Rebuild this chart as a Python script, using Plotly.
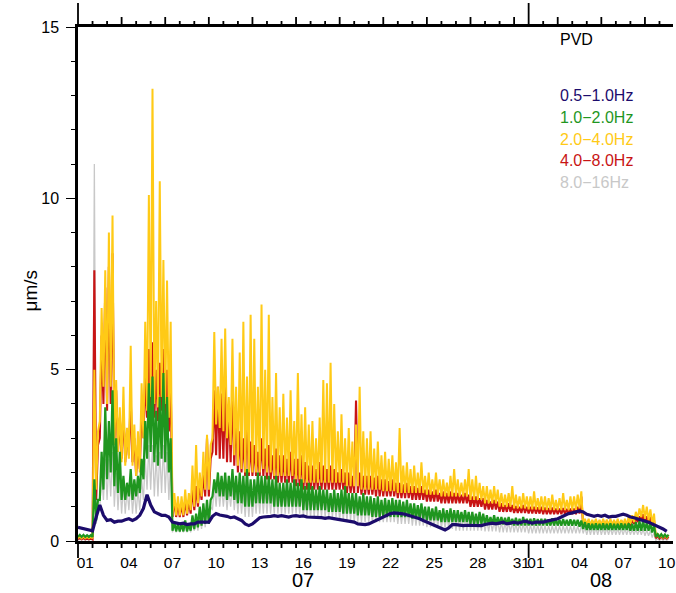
import pandas as pd
import plotly.graph_objects as go

START = "2023-07-01"
X_END = "2023-08-10 22:20"

# Band amplitudes in um/s, one value every 6 hours from Jul 01 00:00 (four per day).
# Noisy bands are stored as valley (lo) and peak (hi) readings.

blue = [
    0.40, 0.38, 0.36, 0.34,
    0.30, 0.70, 1.05, 0.75,
    0.60, 0.62, 0.55, 0.58,
    0.58, 0.62, 0.65, 0.60,
    0.65, 0.75, 0.95, 1.35,
    1.05, 0.85, 0.80, 0.75,
    0.75, 0.70, 0.55, 0.52,
    0.50, 0.52, 0.48, 0.50,
    0.50, 0.55, 0.55, 0.55,
    0.55, 0.72, 0.80, 0.76,
    0.75, 0.72, 0.68, 0.70,
    0.65, 0.60, 0.50, 0.45,
    0.50, 0.60, 0.68, 0.70,
    0.70, 0.72, 0.74, 0.72,
    0.74, 0.72, 0.70, 0.73,
    0.74, 0.72, 0.73, 0.70,
    0.70, 0.68, 0.70, 0.68,
    0.66, 0.68, 0.66, 0.64,
    0.64, 0.62, 0.60, 0.58,
    0.55, 0.50, 0.48, 0.48,
    0.50, 0.55, 0.60, 0.65,
    0.70, 0.75, 0.80, 0.82,
    0.82, 0.80, 0.78, 0.75,
    0.72, 0.68, 0.65, 0.60,
    0.55, 0.50, 0.45, 0.40,
    0.36, 0.32, 0.38, 0.48,
    0.48, 0.46, 0.45, 0.46,
    0.46, 0.45, 0.47, 0.45,
    0.48, 0.50, 0.52, 0.50,
    0.52, 0.55, 0.50, 0.52,
    0.55, 0.52, 0.55, 0.58,
    0.55, 0.52, 0.55, 0.55,
    0.55, 0.58, 0.60, 0.62,
    0.65, 0.70, 0.75, 0.80,
    0.82, 0.85, 0.88, 0.85,
    0.78, 0.75, 0.72, 0.75,
    0.72, 0.75, 0.70, 0.72,
    0.72, 0.75, 0.78, 0.75,
    0.70, 0.68, 0.65, 0.62,
    0.58, 0.55, 0.50, 0.45,
    0.42, 0.35, 0.28,
]

green_lo = [
    0.12, 0.12, 0.12, 0.12,
    0.12, 0.60, 1.20, 1.50,
    1.80, 2.00, 1.60, 1.40,
    1.20, 1.20, 1.30, 1.20,
    1.30, 1.40, 1.80, 2.40,
    2.60, 2.30, 2.20, 2.40,
    2.30, 2.00, 0.30, 0.28,
    0.28, 0.28, 0.28, 0.30,
    0.35, 0.40, 0.45, 0.50,
    0.50, 1.30, 1.40, 1.30,
    1.30, 1.20, 1.30, 1.20,
    1.10, 1.10, 1.00, 1.00,
    1.00, 1.10, 1.10, 1.10,
    1.10, 1.10, 1.00, 1.00,
    1.00, 1.00, 1.00, 1.00,
    1.00, 1.00, 0.90, 0.90,
    0.90, 0.90, 0.90, 0.90,
    0.90, 0.85, 0.85, 0.85,
    0.85, 0.80, 0.80, 0.80,
    0.80, 0.75, 0.75, 0.75,
    0.75, 0.70, 0.70, 0.70,
    0.70, 0.70, 0.70, 0.70,
    0.70, 0.70, 0.70, 0.70,
    0.65, 0.65, 0.65, 0.65,
    0.60, 0.60, 0.60, 0.60,
    0.55, 0.55, 0.55, 0.55,
    0.55, 0.55, 0.55, 0.55,
    0.50, 0.50, 0.50, 0.50,
    0.48, 0.48, 0.48, 0.48,
    0.48, 0.48, 0.48, 0.48,
    0.45, 0.45, 0.45, 0.45,
    0.45, 0.45, 0.45, 0.45,
    0.45, 0.45, 0.45, 0.45,
    0.45, 0.45, 0.45, 0.45,
    0.45, 0.45, 0.42, 0.35,
    0.32, 0.32, 0.32, 0.32,
    0.32, 0.32, 0.32, 0.32,
    0.32, 0.32, 0.32, 0.32,
    0.30, 0.30, 0.30, 0.30,
    0.30, 0.30, 0.25, 0.12,
    0.12, 0.12, 0.12,
]

green_hi = [
    0.18, 0.18, 0.17, 0.17,
    1.80, 1.20, 2.60, 3.90,
    3.50, 4.40, 3.00, 2.60,
    1.90, 1.70, 2.10, 1.80,
    1.90, 2.40, 3.50, 4.60,
    4.80, 3.80, 4.20, 4.90,
    4.20, 3.00, 0.55, 0.50,
    0.50, 0.60, 0.50, 0.75,
    0.80, 1.00, 1.10, 1.20,
    1.20, 1.80, 2.00, 1.90,
    2.00, 1.90, 2.10, 1.90,
    2.00, 1.90, 2.10, 1.80,
    1.80, 2.00, 1.90, 1.90,
    1.90, 1.80, 1.90, 1.70,
    1.70, 1.80, 1.70, 1.80,
    1.70, 1.80, 1.60, 1.70,
    1.60, 1.50, 1.60, 1.50,
    1.50, 1.40, 1.50, 1.40,
    1.50, 1.60, 1.40, 1.40,
    1.40, 1.30, 1.40, 1.30,
    1.30, 1.25, 1.30, 1.20,
    1.25, 1.20, 1.25, 1.20,
    1.20, 1.15, 1.20, 1.10,
    1.10, 1.05, 1.10, 1.00,
    1.00, 0.95, 1.00, 0.90,
    0.95, 0.90, 0.95, 0.90,
    0.90, 0.85, 0.90, 0.85,
    0.85, 0.80, 0.85, 0.80,
    0.75, 0.70, 0.75, 0.70,
    0.70, 0.68, 0.70, 0.65,
    0.68, 0.65, 0.70, 0.65,
    0.65, 0.66, 0.64, 0.65,
    0.65, 0.63, 0.66, 0.64,
    0.62, 0.64, 0.62, 0.63,
    0.62, 0.62, 0.60, 0.55,
    0.52, 0.50, 0.52, 0.50,
    0.52, 0.50, 0.52, 0.50,
    0.50, 0.52, 0.50, 0.52,
    0.50, 0.55, 0.58, 0.60,
    0.55, 0.52, 0.45, 0.20,
    0.20, 0.19, 0.18,
]

yellow_lo = [
    0.08, 0.08, 0.08, 0.08,
    0.08, 1.50, 3.50, 4.50,
    4.00, 4.50, 2.80, 2.60,
    2.30, 2.20, 2.40, 2.20,
    1.90, 2.00, 3.00, 3.80,
    4.20, 4.00, 3.90, 4.20,
    4.00, 3.60, 0.75, 0.75,
    0.75, 0.75, 0.80, 0.90,
    1.00, 1.10, 1.30, 1.50,
    1.50, 3.00, 3.40, 3.30,
    3.20, 3.00, 2.80, 2.50,
    2.20, 2.10, 2.00, 2.00,
    2.00, 2.00, 2.00, 2.10,
    2.00, 2.00, 1.90, 1.90,
    1.90, 1.90, 1.90, 1.90,
    1.80, 1.80, 1.70, 1.70,
    1.70, 1.70, 1.70, 1.70,
    1.70, 1.70, 1.70, 1.70,
    1.70, 1.70, 1.60, 1.60,
    1.60, 1.60, 1.50, 1.50,
    1.50, 1.50, 1.50, 1.50,
    1.45, 1.45, 1.45, 1.45,
    1.40, 1.40, 1.40, 1.40,
    1.40, 1.40, 1.40, 1.40,
    1.35, 1.35, 1.35, 1.35,
    1.30, 1.30, 1.30, 1.30,
    1.30, 1.30, 1.30, 1.30,
    1.20, 1.20, 1.20, 1.20,
    1.10, 1.10, 1.10, 1.10,
    1.00, 1.00, 1.00, 1.00,
    0.95, 0.95, 0.95, 0.95,
    0.92, 0.92, 0.92, 0.92,
    0.90, 0.90, 0.90, 0.90,
    0.90, 0.90, 0.90, 0.90,
    0.90, 0.90, 0.95, 0.45,
    0.45, 0.45, 0.45, 0.45,
    0.45, 0.45, 0.45, 0.45,
    0.45, 0.45, 0.45, 0.45,
    0.50, 0.55, 0.65, 0.70,
    0.65, 0.60, 0.50, 0.12,
    0.10, 0.10, 0.10,
]

yellow_hi = [
    0.13, 0.13, 0.12, 0.12,
    5.00, 3.20, 6.80, 7.90,
    9.00, 9.50, 4.70, 3.90,
    4.50, 3.30, 5.70, 3.40,
    3.20, 4.60, 6.40, 10.10,
    13.20, 7.00, 10.50, 8.20,
    7.60, 6.40, 1.40, 1.30,
    1.30, 1.50, 1.40, 2.20,
    2.80, 2.00, 2.60, 3.10,
    2.80, 6.10, 4.50, 5.90,
    6.20, 4.20, 5.90, 4.50,
    5.50, 6.40, 4.80, 6.60,
    5.90, 4.50, 6.90, 5.00,
    6.60, 4.20, 4.90, 3.90,
    4.30, 3.60, 4.40, 3.50,
    4.90, 3.70, 3.90, 3.40,
    3.50, 3.00, 3.60, 4.70,
    4.60, 5.20, 4.00, 3.20,
    3.70, 3.00, 3.30, 2.90,
    3.40, 4.50, 3.20, 3.00,
    3.20, 2.70, 2.90, 2.50,
    2.60, 2.40, 2.50, 2.30,
    3.30, 2.20, 2.30, 2.10,
    2.20, 2.00, 2.30, 1.90,
    2.00, 1.80, 2.00, 1.80,
    1.80, 1.70, 1.90, 2.10,
    1.80, 1.70, 1.80, 2.10,
    1.80, 1.90, 1.70, 1.60,
    1.60, 1.50, 1.60, 1.50,
    1.40, 1.35, 1.40, 1.60,
    1.35, 1.30, 1.40, 1.30,
    1.30, 1.45, 1.25, 1.30,
    1.30, 1.25, 1.35, 1.20,
    1.25, 1.40, 1.20, 1.30,
    1.30, 1.35, 1.45, 0.65,
    0.65, 0.62, 0.65, 0.62,
    0.65, 0.63, 0.65, 0.62,
    0.65, 0.62, 0.65, 0.70,
    0.75, 0.85, 0.95, 1.05,
    1.00, 0.92, 0.80, 0.22,
    0.18, 0.17, 0.17,
]

red_lo = [
    0.05, 0.05, 0.05, 0.05,
    0.05, 1.20, 3.00, 4.00,
    3.80, 4.00, 2.80, 2.60,
    2.40, 2.30, 2.50, 2.30,
    1.90, 2.10, 3.00, 3.60,
    3.80, 3.60, 3.50, 3.80,
    3.60, 3.20, 0.70, 0.70,
    0.70, 0.70, 0.75, 0.80,
    0.90, 1.00, 1.20, 1.30,
    1.30, 2.60, 2.50, 2.40,
    2.40, 2.30, 2.30, 2.20,
    2.00, 2.00, 1.90, 1.90,
    1.90, 1.90, 1.90, 1.90,
    1.80, 1.80, 1.80, 1.70,
    1.70, 1.70, 1.70, 1.70,
    1.60, 1.60, 1.50, 1.50,
    1.50, 1.50, 1.50, 1.50,
    1.50, 1.50, 1.50, 1.50,
    1.50, 1.50, 1.40, 1.40,
    1.40, 1.40, 1.35, 1.35,
    1.35, 1.35, 1.30, 1.30,
    1.30, 1.30, 1.30, 1.30,
    1.25, 1.25, 1.25, 1.25,
    1.20, 1.20, 1.20, 1.20,
    1.15, 1.15, 1.15, 1.15,
    1.10, 1.10, 1.10, 1.10,
    1.10, 1.10, 1.10, 1.10,
    1.00, 1.00, 1.00, 1.00,
    0.92, 0.92, 0.92, 0.92,
    0.85, 0.85, 0.85, 0.85,
    0.82, 0.82, 0.82, 0.82,
    0.80, 0.80, 0.80, 0.80,
    0.78, 0.78, 0.78, 0.78,
    0.78, 0.78, 0.78, 0.78,
    0.78, 0.78, 0.80, 0.42,
    0.42, 0.42, 0.42, 0.42,
    0.42, 0.42, 0.42, 0.42,
    0.42, 0.42, 0.42, 0.42,
    0.45, 0.50, 0.55, 0.60,
    0.55, 0.50, 0.45, 0.08,
    0.07, 0.07, 0.07,
]

red_hi = [
    0.09, 0.09, 0.08, 0.08,
    7.90, 2.80, 6.00, 7.40,
    8.00, 8.40, 4.40, 3.60,
    3.80, 3.20, 4.20, 3.00,
    2.80, 3.80, 4.80, 5.60,
    5.80, 5.00, 5.20, 5.60,
    5.00, 4.70, 1.20, 1.10,
    1.10, 1.20, 1.20, 1.60,
    1.60, 1.70, 2.00, 3.00,
    2.40, 4.40, 4.50, 4.30,
    4.50, 4.00, 4.40, 3.80,
    3.20, 3.00, 3.60, 2.90,
    2.80, 2.60, 3.00, 2.70,
    2.80, 2.50, 2.70, 2.50,
    2.50, 2.40, 2.60, 2.40,
    2.40, 2.50, 2.30, 2.20,
    2.20, 2.10, 2.30, 2.20,
    2.10, 2.20, 2.10, 2.00,
    2.10, 2.00, 2.00, 1.90,
    4.10, 2.00, 1.90, 1.90,
    1.90, 1.85, 1.90, 1.80,
    1.80, 1.75, 1.80, 1.70,
    1.70, 1.65, 1.70, 1.60,
    1.60, 1.55, 1.60, 1.50,
    1.50, 1.45, 1.50, 1.40,
    1.45, 1.40, 1.45, 1.40,
    1.40, 1.35, 1.40, 1.35,
    1.30, 1.30, 1.25, 1.25,
    1.20, 1.15, 1.20, 1.15,
    1.10, 1.05, 1.10, 1.05,
    1.02, 1.00, 1.05, 1.00,
    1.00, 1.00, 0.98, 1.00,
    0.98, 0.96, 0.98, 0.95,
    0.95, 0.96, 0.94, 0.95,
    0.95, 1.00, 1.30, 0.60,
    0.60, 0.58, 0.60, 0.58,
    0.60, 0.58, 0.60, 0.58,
    0.58, 0.60, 0.58, 0.60,
    0.62, 0.68, 0.72, 0.78,
    0.72, 0.70, 0.60, 0.15,
    0.13, 0.12, 0.12,
]

gray_lo = [
    0.02, 0.02, 0.02, 0.02,
    0.02, 0.50, 1.00, 1.20,
    1.20, 1.30, 1.00, 0.90,
    0.80, 0.80, 0.90, 0.80,
    0.80, 0.90, 1.20, 1.50,
    1.50, 1.30, 1.30, 1.40,
    1.40, 1.20, 0.25, 0.25,
    0.25, 0.25, 0.25, 0.25,
    0.30, 0.30, 0.35, 0.40,
    0.50, 0.90, 1.00, 1.00,
    1.00, 0.90, 1.00, 0.90,
    0.80, 0.80, 0.70, 0.70,
    0.70, 0.80, 0.80, 0.80,
    0.80, 0.80, 0.80, 0.80,
    0.80, 0.80, 0.80, 0.80,
    0.80, 0.80, 0.70, 0.70,
    0.70, 0.70, 0.70, 0.70,
    0.70, 0.70, 0.70, 0.70,
    0.60, 0.60, 0.60, 0.60,
    0.55, 0.55, 0.55, 0.55,
    0.55, 0.55, 0.55, 0.55,
    0.55, 0.55, 0.55, 0.55,
    0.50, 0.50, 0.50, 0.50,
    0.45, 0.45, 0.45, 0.45,
    0.40, 0.40, 0.40, 0.40,
    0.35, 0.35, 0.35, 0.35,
    0.30, 0.30, 0.30, 0.30,
    0.30, 0.30, 0.30, 0.30,
    0.28, 0.28, 0.28, 0.28,
    0.25, 0.25, 0.25, 0.25,
    0.25, 0.25, 0.25, 0.25,
    0.22, 0.22, 0.22, 0.22,
    0.22, 0.22, 0.22, 0.22,
    0.22, 0.22, 0.22, 0.22,
    0.22, 0.22, 0.22, 0.22,
    0.18, 0.18, 0.18, 0.18,
    0.18, 0.18, 0.18, 0.18,
    0.18, 0.18, 0.18, 0.18,
    0.18, 0.18, 0.18, 0.18,
    0.15, 0.15, 0.10, 0.02,
    0.02, 0.02, 0.02,
]

gray_hi = [
    0.05, 0.05, 0.05, 0.05,
    11.00, 1.00, 2.00, 2.40,
    2.40, 2.60, 2.00, 1.80,
    1.60, 1.50, 1.70, 1.50,
    1.50, 1.80, 2.40, 2.80,
    2.80, 2.50, 2.60, 2.80,
    2.60, 2.40, 0.50, 0.50,
    0.50, 0.50, 0.50, 0.50,
    0.60, 0.70, 0.80, 0.90,
    1.00, 1.60, 1.70, 1.60,
    1.60, 1.50, 1.60, 1.50,
    1.50, 1.40, 1.50, 1.40,
    1.40, 1.50, 1.50, 1.50,
    1.50, 1.40, 1.50, 1.40,
    1.40, 1.40, 1.40, 1.40,
    1.30, 1.40, 1.30, 1.30,
    1.30, 1.30, 1.30, 1.30,
    1.20, 1.20, 1.20, 1.20,
    1.20, 1.20, 1.20, 1.20,
    1.10, 1.10, 1.10, 1.10,
    1.00, 1.00, 1.00, 1.00,
    1.00, 1.00, 1.00, 1.00,
    0.95, 0.95, 0.95, 0.95,
    0.90, 0.90, 0.90, 0.90,
    0.85, 0.85, 0.85, 0.85,
    0.80, 0.80, 0.80, 0.80,
    0.75, 0.75, 0.75, 0.75,
    0.70, 0.70, 0.70, 0.70,
    0.60, 0.60, 0.60, 0.60,
    0.55, 0.55, 0.55, 0.55,
    0.50, 0.50, 0.50, 0.50,
    0.48, 0.48, 0.48, 0.48,
    0.45, 0.45, 0.45, 0.45,
    0.45, 0.45, 0.45, 0.45,
    0.45, 0.45, 0.45, 0.40,
    0.40, 0.40, 0.40, 0.40,
    0.38, 0.38, 0.38, 0.38,
    0.36, 0.36, 0.36, 0.36,
    0.35, 0.35, 0.35, 0.35,
    0.32, 0.30, 0.25, 0.06,
    0.05, 0.05, 0.05,
]

band_names = ["0.5\u22121.0Hz", "1.0\u22122.0Hz", "2.0\u22124.0Hz", "4.0\u22128.0Hz", "8.0\u221216Hz"]
band_colors = ["#1c0c6c", "#1f961f", "#ffca16", "#c81414", "#c8c8c8"]

jul_days = ["01", "04", "07", "10", "13", "16", "19", "22", "25", "28", "31"]
aug_days = ["01", "04", "07", "10"]

FONT = "Liberation Sans, Arial, Helvetica, sans-serif"
PLOT_H = 514  # plot area height in px, used to size frame marks outside it


def sample_times(n):
    return pd.date_range(START, periods=n, freq="6h")


def zigzag(lo, hi):
    """Alternate valley and peak readings so the band renders like dense raw samples."""
    n = min(len(lo), len(hi))
    xs, ys = [], []
    for t, a, b in zip(sample_times(n), lo[:n], hi[:n]):
        xs += [t.strftime("%Y-%m-%d %H:%M"), (t + pd.Timedelta(hours=3)).strftime("%Y-%m-%d %H:%M")]
        ys += [a, b]
    return xs, ys


fig = go.Figure()

# drawn from the highest band up to the lowest one, so 0.5-1.0 Hz ends on top
layers = [
    (gray_lo, gray_hi, band_colors[4], 1.3),
    (red_lo, red_hi, band_colors[3], 2.1),
    (yellow_lo, yellow_hi, band_colors[2], 2.0),
    (green_lo, green_hi, band_colors[1], 2.2),
]
for lo, hi, col, w in layers:
    xs, ys = zigzag(lo, hi)
    fig.add_trace(go.Scatter(x=xs, y=ys, mode="lines",
                             line=dict(color=col, width=w, simplify=False),
                             showlegend=False, hoverinfo="skip"))

fig.add_trace(go.Scatter(x=[t.strftime("%Y-%m-%d %H:%M") for t in sample_times(len(blue))],
                         y=blue, mode="lines",
                         line=dict(color=band_colors[0], width=3.2),
                         showlegend=False, hoverinfo="skip"))

# day labels sit at midday, tick marks at midnight
label_vals = ([f"2023-07-{d} 12:00" for d in jul_days] +
              [f"2023-08-{d} 12:00" for d in aug_days])
label_text = jul_days + aug_days

t_start, t_end = pd.Timestamp(START), pd.Timestamp(X_END)
day_marks = list(pd.date_range(START, X_END, freq="D"))
three_day_marks = set(pd.date_range(START, X_END, freq="3D"))
month_marks = {pd.Timestamp("2023-07-01"), pd.Timestamp("2023-08-01")}

fig.update_layout(
    width=676, height=593,
    margin=dict(l=78, r=0, t=27, b=52),
    paper_bgcolor="white", plot_bgcolor="white",
    font=dict(family=FONT, size=15, color="black"),
    xaxis=dict(type="date", range=[START, X_END], showgrid=False, zeroline=False,
               showline=True, linewidth=2.5, linecolor="black", mirror=True,
               tickmode="array", tickvals=label_vals, ticktext=label_text,
               tickangle=0, ticklabeloverflow="allow",
               ticks="outside", ticklen=6, tickcolor="rgba(0,0,0,0)",
               tickfont=dict(size=15.5, family=FONT)),
    yaxis=dict(range=[0, 15], showgrid=False, zeroline=False,
               showline=True, linewidth=2.5, linecolor="black",
               tickmode="array", tickvals=[0, 5, 10, 15],
               ticks="outside", ticklen=9, tickwidth=1.3, tickcolor="black",
               minor=dict(dtick=1, ticks="outside", ticklen=4.5,
                          tickwidth=1.2, tickcolor="black"),
               tickfont=dict(size=16, family=FONT), ticklabelstandoff=4),
)

# daily frame marks below the time axis and along the top edge, placed as a
# fraction of the time span (every third day longer on top; month boundaries
# run further out on both edges)
for m in day_marks:
    xf = (m - t_start) / (t_end - t_start)
    if m in month_marks:
        top, bottom = 24, 17
    elif m in three_day_marks:
        top, bottom = 10, 7
    else:
        top, bottom = 6, 7
    fig.add_shape(type="line", xref="paper", yref="paper", x0=xf, x1=xf,
                  y0=1, y1=1 + top / PLOT_H, line=dict(color="black", width=1.8))
    fig.add_shape(type="line", xref="paper", yref="paper", x0=xf, x1=xf,
                  y0=0, y1=-bottom / PLOT_H, line=dict(color="black", width=1.8))

ann = []
ann.append(dict(text="07", x="2023-07-16 12:00", xref="x", y=(541 - 593) / PLOT_H, yref="paper",
                showarrow=False, xanchor="center", yanchor="bottom",
                font=dict(size=20, family=FONT, color="black")))
ann.append(dict(text="08", x="2023-08-06", xref="x", y=(541 - 593) / PLOT_H, yref="paper",
                showarrow=False, xanchor="center", yanchor="bottom",
                font=dict(size=20, family=FONT, color="black")))
ann.append(dict(text="\u03bcm/s", x=-0.080, xref="paper", y=0.488, yref="paper",
                textangle=-90, showarrow=False, xanchor="center", yanchor="middle",
                font=dict(size=19, family=FONT, color="black")))
ann.append(dict(text="PVD", x=0.838, xref="paper", y=0.975, yref="paper",
                showarrow=False, xanchor="center", yanchor="middle",
                font=dict(size=16, family=FONT, color="black")))
legend_y = [96, 117.5, 139, 160.5, 182]
for name, col, yp in zip(band_names, band_colors, legend_y):
    ann.append(dict(text=name, x=0.806, xref="paper", y=(541 - yp) / PLOT_H, yref="paper",
                    showarrow=False, xanchor="left", yanchor="middle",
                    font=dict(size=16, family=FONT, color=col)))
fig.update_layout(annotations=ann)

fig.write_html("out.html")
